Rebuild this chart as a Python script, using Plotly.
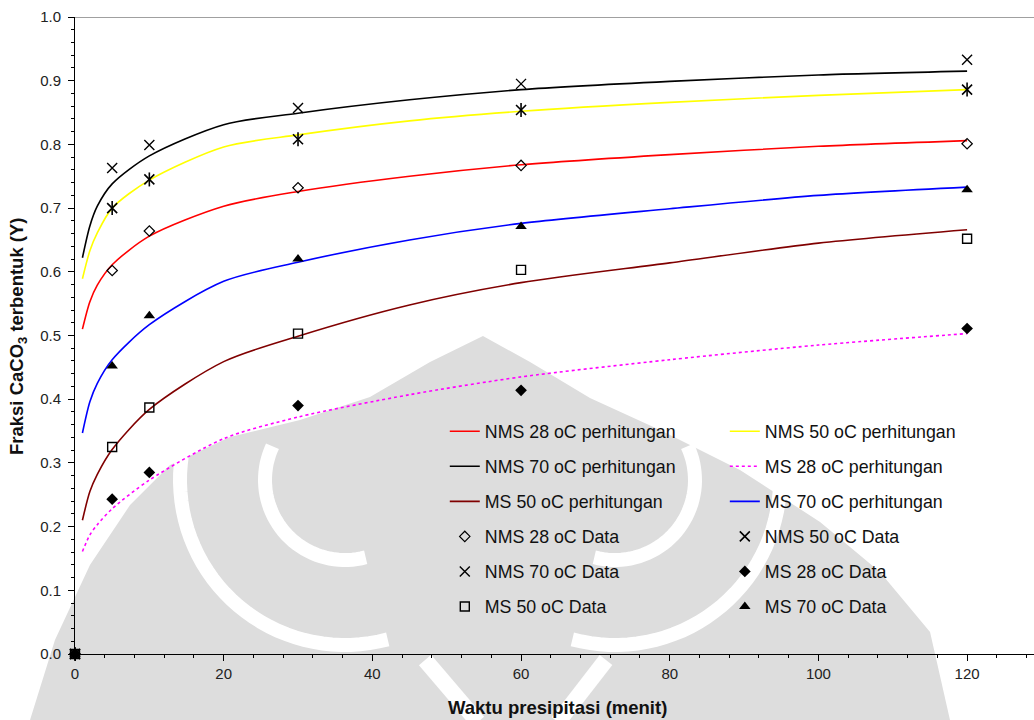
import math
import plotly.graph_objects as go

# Waktu presipitasi (menit) untuk kurva perhitungan
t_calc = [1, 2, 3, 5, 10, 20, 30, 45, 60, 80, 100, 120]

# Fraksi CaCO3 hasil perhitungan
nms28_calc = [0.510, 0.553, 0.579, 0.611, 0.656, 0.703, 0.726, 0.750, 0.768, 0.784, 0.797, 0.806]
nms50_calc = [0.589, 0.633, 0.661, 0.700, 0.744, 0.796, 0.815, 0.837, 0.852, 0.866, 0.877, 0.886]
nms70_calc = [0.622, 0.672, 0.703, 0.738, 0.782, 0.831, 0.849, 0.870, 0.886, 0.899, 0.909, 0.915]
ms28_calc = [0.161, 0.187, 0.203, 0.228, 0.273, 0.338, 0.372, 0.407, 0.435, 0.462, 0.485, 0.503]
ms50_calc = [0.210, 0.255, 0.282, 0.321, 0.384, 0.459, 0.499, 0.548, 0.583, 0.614, 0.645, 0.666]
ms70_calc = [0.347, 0.396, 0.425, 0.462, 0.517, 0.585, 0.615, 0.650, 0.676, 0.699, 0.720, 0.733]

# Data percobaan
t_data = [0, 5, 10, 30, 60, 120]
nms28_data = [0.0, 0.602, 0.664, 0.732, 0.767, 0.801]
nms50_data = [0.0, 0.700, 0.745, 0.808, 0.854, 0.886]
nms70_data = [0.0, 0.763, 0.799, 0.857, 0.895, 0.933]
ms28_data = [0.0, 0.243, 0.285, 0.390, 0.414, 0.511]
ms50_data = [0.0, 0.325, 0.387, 0.503, 0.603, 0.652]
ms70_data = [0.0, 0.452, 0.531, 0.620, 0.671, 0.729]

x_ticks = [0, 20, 40, 60, 80, 100, 120]
y_ticks = [0.0, 0.1, 0.2, 0.3, 0.4, 0.5, 0.6, 0.7, 0.8, 0.9, 1.0]

FONT = "Liberation Sans, Arial, sans-serif"

# page geometry (px) of the plotting area
L, T, W, H = 75, 17, 959, 637


def to_paper(px, py):
    return (px - L) / W, (T + H - py) / H


def path_from(points, close=False):
    pts = [to_paper(x, y) for x, y in points]
    d = "M" + " L".join(f"{x:.4f},{y:.4f}" for x, y in pts)
    return d + (" Z" if close else "")


def arc(cx, cy, r, a0, a1, n=40):
    return [(cx + r * math.cos(math.radians(a0 + (a1 - a0) * i / n)),
             cy + r * math.sin(math.radians(a0 + (a1 - a0) * i / n)))
            for i in range(n + 1)]


def band(points, width=14):
    return dict(type="path", xref="paper", yref="paper", layer="below",
                path=path_from(points), line=dict(color="white", width=width))


# faint background emblem
emblem_outline = [(30, 720), (55, 640), (90, 565), (130, 505), (170, 465), (230, 437),
                  (300, 420), (370, 397), (430, 362), (483, 336), (530, 362), (590, 398),
                  (660, 430), (740, 470), (820, 522), (880, 572), (930, 632), (950, 720)]
shapes = [dict(type="path", xref="paper", yref="paper", layer="below",
               path=path_from(emblem_outline, close=True),
               fillcolor="#dddddd", line=dict(width=0))]
for cx, a0, a1 in [(345, 205, 75), (615, -25, 105)]:
    for r in (165, 80):
        shapes.append(band(arc(cx, 480, r, a0, a1)))
shapes.append(band([(425, 660), (478, 722)], 16))
shapes.append(band([(558, 722), (606, 660)], 16))

shapes.append(dict(type="line", xref="paper", yref="y", x0=0, x1=1, y0=1, y1=1,
                   line=dict(color="#808080", width=1.5)))

fig = go.Figure()


def calc_line(name, y, color, legend, rank, dash="solid"):
    fig.add_trace(go.Scatter(
        x=t_calc, y=y, mode="lines", name=name,
        line=dict(color=color, width=1.6, dash=dash, shape="spline", smoothing=0.8),
        legend=legend, legendgroup=name, legendrank=rank,
    ))


def data_pts(name, y, symbol, legend, rank, size=8, fill="black", lw=1.2, show=True):
    fig.add_trace(go.Scatter(
        x=t_data, y=y, mode="markers", name=name,
        marker=dict(symbol=symbol, size=size, color=fill,
                    line=dict(color="black", width=lw)),
        legend=legend, legendgroup=name, legendrank=rank,
        showlegend=show, cliponaxis=False,
    ))


calc_line("NMS 28 oC perhitungan", nms28_calc, "#FF0000", "legend", 1)
calc_line("NMS 50 oC perhitungan", nms50_calc, "#FFFF00", "legend2", 1)
calc_line("NMS 70 oC perhitungan", nms70_calc, "#000000", "legend", 2)
calc_line("MS 28 oC perhitungan", ms28_calc, "#FF00FF", "legend2", 2, dash="dot")
calc_line("MS 50 oC perhitungan", ms50_calc, "#800000", "legend", 3)
calc_line("MS 70 oC perhitungan", ms70_calc, "#0000FF", "legend2", 3)

data_pts("NMS 28 oC Data", nms28_data, "diamond-open", "legend", 4, size=8)
data_pts("NMS 50 oC Data", nms50_data, "x-thin-open", "legend2", 4, size=10, lw=1.6)
# vertical stroke completing the asterisk marker
data_pts("NMS 50 oC Data ", nms50_data, "line-ns-open", "legend2", 4, size=10, lw=1.6, show=False)
data_pts("NMS 70 oC Data", nms70_data, "x-thin-open", "legend", 5, size=10, lw=1.4)
data_pts("MS 28 oC Data", ms28_data, "diamond", "legend2", 5, size=9, lw=0)
data_pts("MS 50 oC Data", ms50_data, "square-open", "legend", 6, size=9, lw=1.4)
data_pts("MS 70 oC Data", ms70_data, "triangle-up", "legend2", 6, size=10, lw=0)

legend_common = dict(
    font=dict(family=FONT, size=17.8, color="#111111"),
    bgcolor="rgba(0,0,0,0)", borderwidth=0,
    traceorder="grouped", tracegroupgap=8.9,
    xanchor="left", yanchor="top", itemclick=False,
)

fig.update_layout(
    width=1034, height=720,
    margin=dict(l=L, r=0, t=T, b=720 - T - H),
    paper_bgcolor="white", plot_bgcolor="rgba(0,0,0,0)",
    font=dict(family=FONT, size=15, color="#222222"),
    legend=dict(x=0.3856, y=0.378, **legend_common),
    legend2=dict(x=0.6776, y=0.378, **legend_common),
    xaxis=dict(
        range=[0, 129], tickvals=x_ticks, ticks="outside", ticklen=6,
        tickcolor="black", tickwidth=1, showline=True, linecolor="black",
        linewidth=1, showgrid=False, zeroline=False,
        tickfont=dict(family=FONT, size=15, color="#222222"),
        minor=dict(dtick=4, tick0=0, ticks="outside", ticklen=3,
                   tickcolor="black", showgrid=False),
    ),
    yaxis=dict(
        range=[0, 1], tickvals=y_ticks, tickformat=".1f", ticks="outside",
        ticklen=6, tickcolor="black", tickwidth=1, showline=True,
        linecolor="black", linewidth=1, showgrid=False, zeroline=False,
        ticklabelstandoff=4,
        tickfont=dict(family=FONT, size=15, color="#222222"),
        minor=dict(dtick=0.02, tick0=0, ticks="outside", ticklen=3,
                   tickcolor="black", showgrid=False),
    ),
    shapes=shapes,
    annotations=[
        dict(text="<b>Waktu presipitasi (menit)</b>", xref="paper", yref="paper",
             x=(557 - L) / W, y=(654 - 707) / H, xanchor="center", yanchor="middle",
             showarrow=False, font=dict(family=FONT, size=18.5, color="#111111")),
        dict(text="<b>Fraksi CaCO<sub>3</sub> terbentuk (Y)</b>", xref="paper",
             yref="paper", x=(18 - L) / W, y=(654 - 337) / H,
             xanchor="center", yanchor="middle", textangle=-90,
             showarrow=False, font=dict(family=FONT, size=18.5, color="#111111")),
    ],
)

fig.write_html("out.html")
